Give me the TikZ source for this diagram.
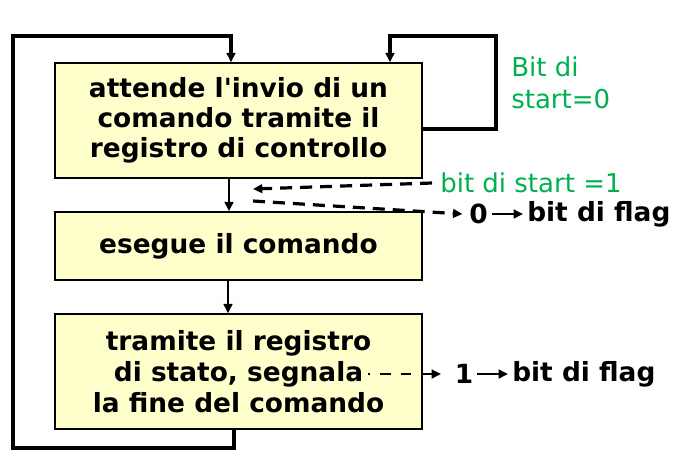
\documentclass[tikz,border=0pt]{standalone}
\usepackage{fontspec}
\setmainfont{DejaVu Sans}[Ligatures=TeXOff]
\usetikzlibrary{arrows.meta}
\definecolor{boxfill}{HTML}{FFFFCC}
\definecolor{startgreen}{HTML}{00B050}
\begin{document}
\begin{tikzpicture}[x=0.75pt,y=-0.75pt,
  box/.style={draw=black,line width=1.1pt,fill=boxfill,minimum width=275.25pt,
    align=center,inner sep=0pt,font=\fontsize{19.8}{22.5}\selectfont\bfseries},
  tip/.style={-{Triangle[length=7pt,width=6.5pt]}},
  loopline/.style={line width=2.6pt,tip},
  flowline/.style={line width=1.8pt,tip},
  dashline/.style={line width=2.4pt,dash pattern=on 9pt off 6pt,tip},
  btxt/.style={font=\fontsize{19.8}{22.5}\selectfont\bfseries,inner sep=3pt},
  gtxt/.style={font=\fontsize{19.5}{24}\selectfont,text=startgreen,inner sep=0pt,align=left}]
\useasboundingbox (0,0) rectangle (677,465);
% boxes
\node[box,minimum height=86.25pt] (b1) at (238.5,120.5)
  {attende l'invio di un\\comando tramite il\\registro di controllo};
\node[box,minimum height=51pt] (b2) at (238.5,246) {esegue il comando};
\node[box,minimum height=86.25pt,font=\fontsize{19.8}{23.5}\selectfont\bfseries] (b3) at (238.5,371.5)
  {tramite il registro\\di stato, segnala\\la fine del comando};
% outer loop
\coordinate (l1) at (234,448);
\coordinate (tl) at (13,36);
\coordinate (t1) at (231,36);
\draw[loopline] (b3.south -| l1) -- (l1) -| (tl) -- (t1) -- (b1.north -| t1);
% self loop
\coordinate (r1) at (496,129);
\coordinate (r2) at (390,36);
\draw[loopline] (b1.east |- r1) -- (r1) |- (r2) -- (b1.north -| r2);
\node[gtxt,anchor=west] (g0) at (511,83) {Bit di\\start=0};
% flow arrows
\coordinate (a1) at (229,0);
\coordinate (a2) at (228,0);
\draw[flowline] (b1.south -| a1) -- (b2.north -| a1);
\draw[flowline] (b2.south -| a2) -- (b3.north -| a2);
% bit di start =1
\node[gtxt,anchor=west] (g1) at (440,183) {bit di start =1};
\coordinate (ds2) at (253,189);
\draw[dashline] ([xshift=-6pt]g1.west) -- (ds2);
% 0 -> bit di flag
\coordinate (ds3) at (253,201);
\node[btxt] (z0) at (478.5,214) {0};
\node[btxt,anchor=west] (f0) at (523,214) {bit di flag};
\draw[dashline] (ds3) -- ([xshift=-2pt]z0.west);
\draw[flowline] (z0.east) -- (f0.west);
% 1 -> bit di flag
\coordinate (ds4) at (368,374);
\coordinate (ds5) at (441,374);
\node[btxt] (z1) at (464,374) {1};
\node[btxt,anchor=west] (f1) at (508,374) {bit di flag};
\draw[line width=2.2pt,dash pattern=on 8pt off 7.5pt,dash phase=6.5pt,tip] (ds4) -- (ds5);
\draw[flowline] (z1.east) -- (f1.west);
\end{tikzpicture}
\end{document}
